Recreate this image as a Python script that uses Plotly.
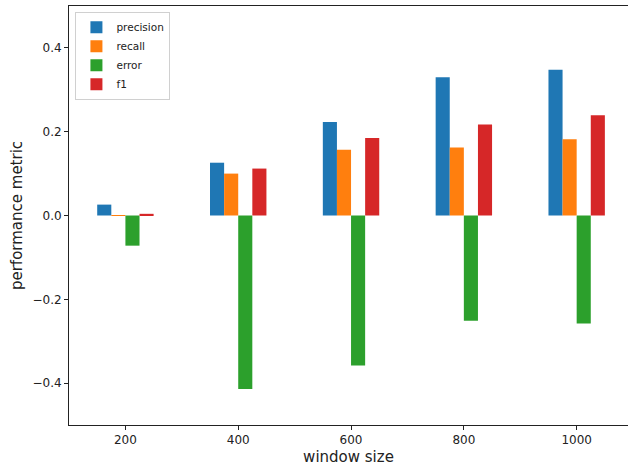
import plotly.graph_objects as go

window_sizes = ["200", "400", "600", "800", "1000"]
precision = [0.026, 0.126, 0.223, 0.330, 0.348]
recall = [0.001, 0.100, 0.157, 0.162, 0.182]
error = [-0.072, -0.414, -0.358, -0.251, -0.258]
f1 = [0.004, 0.112, 0.185, 0.217, 0.239]

series = [("precision", precision, "#1f77b4"),
          ("recall", recall, "#ff7f0e"),
          ("error", error, "#2ca02c"),
          ("f1", f1, "#d62728")]

fig = go.Figure()
for name, vals, color in series:
    fig.add_trace(go.Bar(x=window_sizes, y=vals, name=name,
                         marker=dict(color=color, line=dict(width=0))))

axis_common = dict(showline=True, linecolor="#222222", linewidth=1,
                   ticks="outside", ticklen=4, tickcolor="#222222", showgrid=False,
                   zeroline=False, tickfont=dict(size=12, color="#222222"))

fig.update_layout(
    width=628, height=468,
    margin=dict(l=69, r=0, t=6, b=43, autoexpand=False),
    paper_bgcolor="white", plot_bgcolor="white",
    font=dict(family="DejaVu Sans", color="#222222"),
    barmode="group", bargap=0.5, bargroupgap=0,
    xaxis=dict(title=dict(text="window size", font=dict(size=15), standoff=5),
               type="category", range=[-0.5, 4.455], mirror=True, **axis_common),
    yaxis=dict(title=dict(text="performance metric", font=dict(size=15), standoff=6),
               range=[-0.5, 0.5], tickvals=[-0.4, -0.2, 0.0, 0.2, 0.4],
               tickformat=".1f", mirror=False, **axis_common),
    legend=dict(x=0.0115, y=0.986, xanchor="left", yanchor="top",
                bordercolor="#d0d0d0", borderwidth=1, bgcolor="rgba(255,255,255,0.8)",
                font=dict(size=10.5), tracegroupgap=0, itemwidth=30),
)

fig.write_html("out.html", config={"displayModeBar": False},
               post_script="document.body.style.margin='0';")
